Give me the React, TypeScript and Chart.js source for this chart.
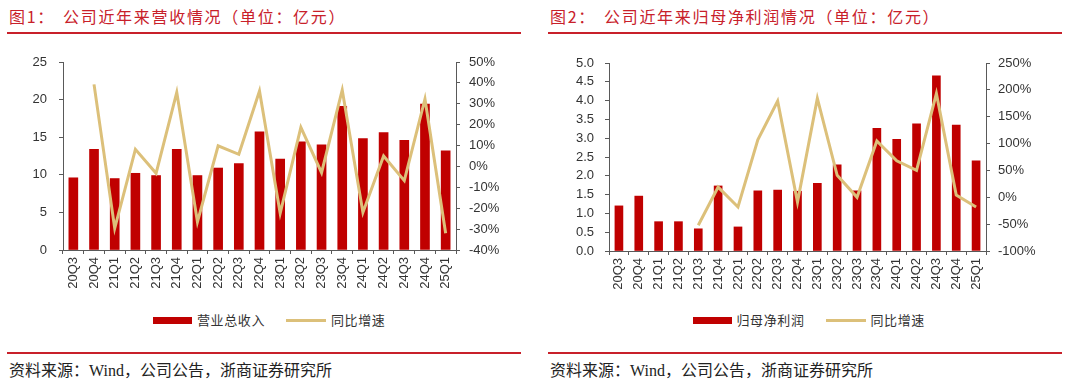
import React, { useEffect, useRef } from 'react';
import { Chart, registerables } from 'chart.js';

Chart.register(...registerables);

// ---- data ----
const categories = ['20Q3', '20Q4', '21Q1', '21Q2', '21Q3', '21Q4', '22Q1', '22Q2', '22Q3', '22Q4', '23Q1', '23Q2', '23Q3', '23Q4', '24Q1', '24Q2', '24Q3', '24Q4', '25Q1'];
const revenue = [9.6, 13.4, 9.5, 10.2, 9.9, 13.4, 9.9, 10.9, 11.5, 15.7, 12.1, 14.4, 14.0, 19.1, 14.8, 15.6, 14.6, 19.4, 13.2];
const revenueYoY = [null, 39.3, -29.6, 8.2, -3.3, 35.5, -26.5, 9.9, 5.8, 36.1, -22.4, 18.7, -3.0, 36.6, -22.0, 5.0, -6.8, 32.3, -32.0];
const profit = [1.2, 1.46, 0.78, 0.78, 0.59, 1.73, 0.64, 1.6, 1.62, 1.59, 1.8, 2.29, 1.6, 3.26, 2.97, 3.38, 4.66, 3.35, 2.4];
const profitYoY = [null, null, null, null, -52, 19, -18, 107, 179, -9, 184, 41, 0, 105, 68, 50, 193, 4, -18];

const title1 = '公司近年来营收情况（单位：亿元）';
const title2 = '公司近年来归母净利润情况（单位：亿元）';
const barLabel1 = '营业总收入';
const barLabel2 = '归母净利润';
const lineLabel = '同比增速';
const sourceText = '资料来源：Wind，公司公告，浙商证券研究所';

const FONT = '"Liberation Sans", Arial, sans-serif';
const CJK = '"Noto Sans CJK SC", sans-serif';
const BAR = '#C00000';
const GOLD = '#DCC07A';
const AXIS = '#595959';
const TICK = '#333333';
const RED = '#C8202A';

type CP = {
  values: number[];
  yoy: (number | null)[];
  leftMax: number;
  leftStep: number;
  leftDec: number;
  rightMin: number;
  rightMax: number;
  rightStep: number;
  leftWidth: number;
  rightWidth: number;
  top: number;
  xHeight: number;
  padL: number;
  padR: number;
  barThickness: number;
  width: number;
  height: number;
};

function Combo(p: CP) {
  const ref = useRef<HTMLCanvasElement>(null);
  useEffect(() => {
    if (!ref.current) return;
    const font = { family: FONT, size: 13 };
    const chart = new Chart(ref.current, {
      type: 'bar',
      data: {
        labels: categories,
        datasets: [
          {
            type: 'line',
            label: lineLabel,
            data: p.yoy as any,
            yAxisID: 'y1',
            borderColor: GOLD,
            backgroundColor: GOLD,
            borderWidth: 3,
            pointRadius: 0,
            tension: 0,
            spanGaps: false,
            order: 0,
          } as any,
          {
            type: 'bar',
            label: 'bar',
            data: p.values,
            yAxisID: 'y',
            backgroundColor: BAR,
            barThickness: p.barThickness,
            order: 1,
          } as any,
        ],
      },
      options: {
        responsive: false,
        animation: false,
        events: [],
        layout: { padding: { top: p.top, left: 0, right: 0, bottom: 0 } },
        plugins: { legend: { display: false }, tooltip: { enabled: false } },
        scales: {
          x: {
            offset: true,
            grid: { display: true, drawOnChartArea: false, offset: true, tickLength: 4, color: AXIS },
            border: { display: true, color: AXIS, width: 1 },
            ticks: { autoSkip: false, maxRotation: 90, minRotation: 90, padding: 3, color: TICK, font },
            afterFit: (s: any) => { s.height = p.xHeight; },
          },
          y: {
            position: 'left',
            min: 0,
            max: p.leftMax,
            grid: { drawOnChartArea: false, tickLength: 4, color: AXIS },
            border: { display: true, color: AXIS, width: 1 },
            ticks: {
              stepSize: p.leftStep,
              padding: p.padL,
              color: TICK,
              font,
              callback: (v: any) => Number(v).toFixed(p.leftDec),
            },
            afterFit: (s: any) => { s.width = p.leftWidth; },
          },
          y1: {
            position: 'right',
            min: p.rightMin,
            max: p.rightMax,
            grid: { drawOnChartArea: false, tickLength: 4, color: AXIS },
            border: { display: true, color: AXIS, width: 1 },
            ticks: {
              stepSize: p.rightStep,
              padding: p.padR,
              color: TICK,
              font,
              callback: (v: any) => `${Math.round(Number(v))}%`,
            },
            afterFit: (s: any) => { s.width = p.rightWidth; },
          },
        },
      } as any,
    });
    return () => chart.destroy();
  }, []);
  return <canvas ref={ref} width={p.width} height={p.height} style={{ width: p.width, height: p.height, display: 'block' }} />;
}

function Panel(props: { x: number; num: string; title: string; barLabel: string; legendX: number[]; chart: CP }) {
  const { x, num, title, barLabel, legendX, chart } = props;
  const abs = (l: number, t: number): React.CSSProperties => ({ position: 'absolute', left: l, top: t });
  return (
    <div style={{ position: 'absolute', left: x, top: 0, width: 540, height: 388 }}>
      <div style={{ ...abs(9, 6), fontFamily: CJK, fontSize: 16, color: RED, whiteSpace: 'nowrap', lineHeight: '20px', letterSpacing: 1.7 }}>
        <span style={{ display: 'inline-block', width: 54 }}>{num}</span>
        {title}
      </div>
      <div style={{ ...abs(7, 32), width: 514, height: 1.5, background: RED }} />
      <div style={{ ...abs(0, 40) }}>
        <Combo {...chart} />
      </div>
      <div style={{ ...abs(legendX[0], 316.5), width: 39, height: 7.5, background: BAR }} />
      <div style={{ ...abs(legendX[1], 310), fontFamily: CJK, fontSize: 13, color: '#333', lineHeight: '20px', letterSpacing: 0.6, whiteSpace: 'nowrap' }}>{barLabel}</div>
      <div style={{ ...abs(legendX[2], 318.5), width: 40, height: 3, background: GOLD }} />
      <div style={{ ...abs(legendX[3], 310), fontFamily: CJK, fontSize: 13, color: '#333', lineHeight: '20px', letterSpacing: 0.6, whiteSpace: 'nowrap' }}>{lineLabel}</div>
      <div style={{ ...abs(7, 352), width: 514, height: 1.5, background: RED }} />
      <div style={{ ...abs(9, 361), fontFamily: '"Liberation Serif", "Noto Sans CJK SC", serif', fontSize: 16, color: '#222', lineHeight: '20px', whiteSpace: 'nowrap' }}>{sourceText}</div>
    </div>
  );
}

export default function App() {
  const c1: CP = {
    values: revenue,
    yoy: revenueYoY,
    leftMax: 25,
    leftStep: 5,
    leftDec: 0,
    rightMin: -40,
    rightMax: 50,
    rightStep: 10,
    leftWidth: 63,
    rightWidth: 84,
    top: 22,
    xHeight: 52,
    padL: 12,
    padR: 9,
    barThickness: 9,
    width: 540,
    height: 262,
  };
  const c2: CP = {
    values: profit,
    yoy: profitYoY,
    leftMax: 5,
    leftStep: 0.5,
    leftDec: 1,
    rightMin: -100,
    rightMax: 250,
    rightStep: 50,
    leftWidth: 68,
    rightWidth: 95,
    top: 23,
    xHeight: 51,
    padL: 11,
    padR: 8,
    barThickness: 8,
    width: 540,
    height: 262,
  };
  return (
    <div style={{ position: 'absolute', left: 0, top: 0, width: 1080, height: 388, background: '#fff', overflow: 'hidden' }}>
      <Panel x={0} num="图1：" title={title1} barLabel={barLabel1} legendX={[153, 197, 286, 331]} chart={c1} />
      <Panel x={541} num="图2：" title={title2} barLabel={barLabel2} legendX={[151.5, 195.5, 284.5, 329.5]} chart={c2} />
    </div>
  );
}
